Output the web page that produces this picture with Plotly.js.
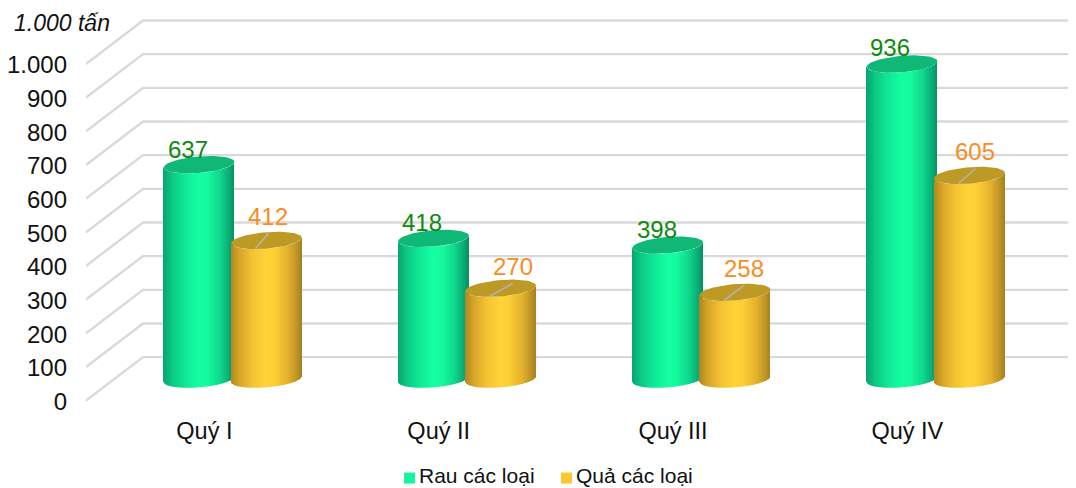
<!DOCTYPE html>
<html><head><meta charset="utf-8">
<script src="https://cdn.plot.ly/plotly-3.0.1.min.js"></script>
<style>html,body{margin:0;padding:0;background:#fff;overflow:hidden}</style>
</head><body><div id="chart" style="width:1076px;height:488px"></div>
<script>
var categories = ['Quý I','Quý II','Quý III','Quý IV'];
var rau = [637,418,398,936];
var qua = [412,270,258,605];
var seriesNames = ['Rau các loại','Quả các loại'];
var yTickVals = [0,100,200,300,400,500,600,700,800,900,1000];
var yTickText = ['0','100','200','300','400','500','600','700','800','900','1.000'];
var unitLabel = '1.000 tấn';

// geometry of the pseudo-3D projection
var W=1076,H=488,L=86,T=15,Y0=401,pxPerUnit=0.337,catPx=234.33,cat0=232.5,Ylow=-10;
var PB=Y0-Ylow*pxPerUnit; // pixel row of the plot's bottom edge
var backDepth=43.5/pxPerUnit, baseDepth=21.5/pxPerUnit;
var R=35.3,capH=8.2,capTilt=2.8,STRIPS=71;
var FONT='"Liberation Sans", Arial, sans-serif';
function xU(px){return (px-cat0)/catPx;}
function yU(dpx){return dpx/pxPerUnit;}
function pX(px){return (px-L)/(W-L);}
function pY(py){return (PB-py)/(PB-T);}

var greenStops=[[0,[10,165,112]],[0.12,[12,200,132]],[0.3,[15,232,150]],[0.5,[20,255,162]],[0.62,[20,250,158]],[0.8,[14,215,140]],[0.93,[10,170,115]],[1,[8,140,98]]];
var yellowStops=[[0,[178,136,32]],[0.12,[215,165,40]],[0.3,[245,195,50]],[0.5,[255,212,56]],[0.62,[252,205,52]],[0.8,[228,178,45]],[0.93,[190,148,38]],[1,[165,128,35]]];
var capColors=['#10b878','#bd9a25'];
var legendColors=['#14f5a0','#fbc733'];
var labelColors=['#0f8a10','#fa8c1e'];
var centerOff=[-33.4,33.9];
var labelDx=[[-11.5,-11,-11,-12],[2,12,9,6]];
var labelDy=[[16,16,16,16.6],[24,22,24,24]];

function ramp(stops,t){
  for(var i=1;i<stops.length;i++){ if(t<=stops[i][0]){
    var a=stops[i-1],b=stops[i],f=(t-a[0])/(b[0]-a[0]);
    return 'rgb('+a[1].map(function(c,k){return Math.round(c+(b[1][k]-c)*f);}).join(',')+')';
  }}
  return 'rgb('+stops[stops.length-1][1].join(',')+')';
}

var traces=[],annos=[],shapes=[];
// wall + side gridlines
yTickVals.forEach(function(v){
  shapes.push({type:'path',xref:'x',yref:'y',layer:'below',line:{color:'#d9d9d9',width:2.4},
    path:'M'+xU(L)+','+v+' L'+xU(143)+','+(v+backDepth)+' L'+xU(1068)+','+(v+backDepth)});
});

[rau,qua].forEach(function(vals,s){
  var stops=s===0?greenStops:yellowStops;
  vals.forEach(function(v,i){
    var c=cat0+catPx*i+centerOff[s], xs=[],bases=[],ys=[],cols=[];
    for(var k=0;k<STRIPS;k++){
      var px=Math.floor(c-R)+k+0.5, t=(px-c)/R;
      if(Math.abs(t)>1) t=t>0?1:-1;
      var off=capH*Math.sqrt(Math.max(0,1-t*t))-capTilt*t; // px below ellipse centre
      xs.push(xU(px)); bases.push(baseDepth-yU(off)); ys.push(v);
      cols.push(ramp(stops,(t+1)/2));
    }
    traces.push({type:'bar',name:seriesNames[s]+' '+categories[i],x:xs,y:ys,base:bases,width:1/catPx,
      marker:{color:cols,line:{width:0}},hoverinfo:'skip',showlegend:false});
    // cap ellipse
    var ex=[],ey=[];
    for(var a=0;a<=72;a++){
      var th=a/72*2*Math.PI, ct=Math.cos(th), st=Math.sin(th);
      ex.push(xU(c+R*ct)); ey.push(v+baseDepth-yU(-capTilt*ct+capH*st));
    }
    traces.push({type:'scatter',mode:'lines',x:ex,y:ey,fill:'toself',fillcolor:capColors[s],
      line:{width:0,color:capColors[s]},hoverinfo:'skip',showlegend:false});
    // value label
    var lx=c+labelDx[s][i];
    annos.push({xref:'x',yref:'y',x:xU(lx),y:v+baseDepth+yU(labelDy[s][i]-0.5),text:String(v),showarrow:false,
      xanchor:'center',yanchor:'middle',font:{family:FONT,size:24,color:labelColors[s]}});
    // leader line
    if(s===1){
      traces.push({type:'scatter',mode:'lines',x:[xU(c-11),xU(lx)],y:[v+baseDepth-yU(8),v+baseDepth+yU(labelDy[s][i]===22?5:7)],
        line:{color:'#b4b4b4',width:1.5},hoverinfo:'skip',showlegend:false});
    }
  });
});

// legend
var legendSwatch=[404,561],legendText=[420,577];
seriesNames.forEach(function(n,s){
  shapes.push({type:'rect',xref:'paper',yref:'paper',x0:pX(legendSwatch[s]),x1:pX(legendSwatch[s]+11),
    y0:pY(478.5+5.5),y1:pY(478.5-5.5),fillcolor:legendColors[s],line:{width:0}});
  annos.push({xref:'paper',yref:'paper',x:pX(legendText[s]),y:pY(476),text:n,showarrow:false,
    xanchor:'left',yanchor:'middle',xshift:-3,font:{family:FONT,size:21,color:'#111'}});
});
annos.push({xref:'paper',yref:'paper',x:pX(62),y:pY(23),text:'<i>'+unitLabel+'</i>',showarrow:false,
  xanchor:'center',yanchor:'middle',font:{family:FONT,size:23,color:'#111'}});

Plotly.newPlot('chart',traces,{
  width:W,height:H,paper_bgcolor:'#fff',plot_bgcolor:'rgba(0,0,0,0)',showlegend:false,barmode:'overlay',
  margin:{l:L,r:0,t:T,b:H-PB,pad:0},
  xaxis:{range:[xU(L),xU(W)],tickmode:'array',tickvals:categories.map(function(_,i){return i-0.12;}),ticktext:categories,
    showgrid:false,zeroline:false,showline:false,ticks:'',ticklabelstandoff:10,
    tickfont:{family:FONT,size:23.5,color:'#111'}},
  yaxis:{range:[Ylow,(Y0-T)/pxPerUnit],tickmode:'array',tickvals:yTickVals.map(function(v){return v-3;}),ticktext:yTickText,
    showgrid:false,zeroline:false,showline:false,ticks:'',ticklabelstandoff:18,
    tickfont:{family:FONT,size:24,color:'#111'}},
  shapes:shapes,annotations:annos
},{displayModeBar:false,staticPlot:true});
</script></body></html>
